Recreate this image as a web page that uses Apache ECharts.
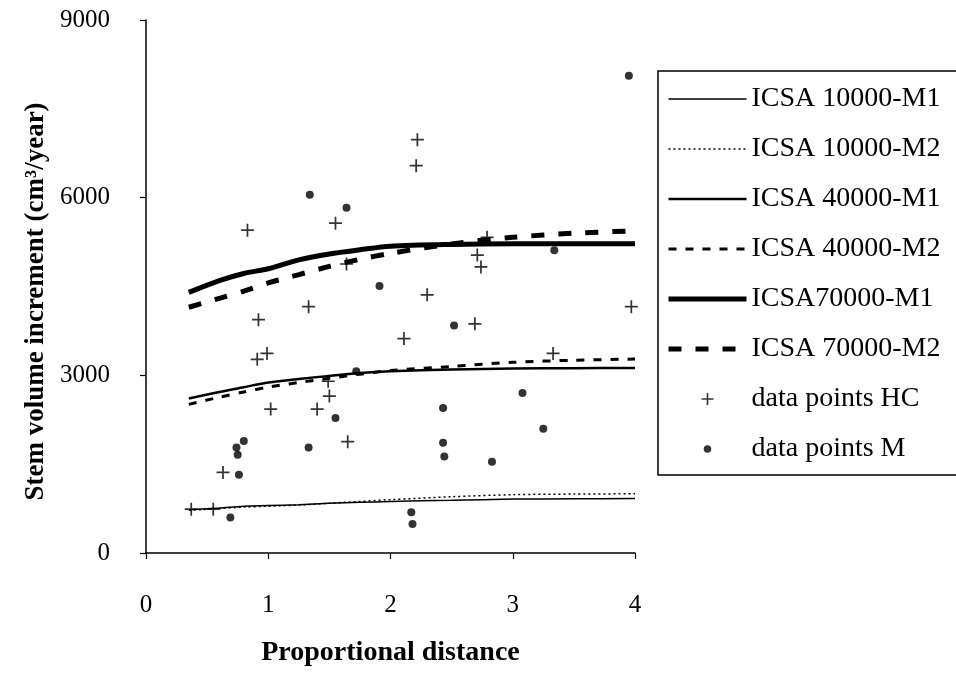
<!DOCTYPE html>
<html>
<head>
<meta charset="utf-8">
<script src="https://cdn.jsdelivr.net/npm/echarts@6/dist/echarts.min.js"></script>
<style>
html,body{margin:0;padding:0;background:#fff;}
#chart{width:956px;height:677px;}
</style>
</head>
<body>
<div id="chart"></div>
<script>
// ---- data ----
var xTicks = [0, 1, 2, 3, 4];
var yTicks = [0, 3000, 6000, 9000];
var curveX = [0.35, 0.6, 0.8, 1.0, 1.25, 1.5, 1.75, 2.0, 2.5, 3.0, 3.5, 4.0];
var icsa10kM1 = [730, 760, 790, 800, 815, 840, 855, 870, 890, 910, 915, 920];
var icsa10kM2 = [720, 750, 775, 790, 810, 840, 870, 900, 950, 985, 995, 1000];
var icsa40kM1 = [2610, 2720, 2800, 2880, 2940, 2990, 3040, 3070, 3100, 3115, 3120, 3125];
var icsa40kM2 = [2510, 2630, 2720, 2800, 2880, 2950, 3020, 3080, 3150, 3220, 3255, 3275];
var icsa70kM1 = [4400, 4600, 4720, 4800, 4950, 5050, 5120, 5180, 5210, 5220, 5220, 5220];
var icsa70kM2 = [4150, 4300, 4420, 4560, 4700, 4840, 4960, 5060, 5220, 5330, 5400, 5440];
var hcX = [0.37, 0.55, 0.63, 0.83, 0.91, 0.92, 0.99, 1.02, 1.33, 1.40, 1.49, 1.50, 1.55, 1.64, 1.65, 2.11, 2.21, 2.22, 2.30, 2.69, 2.71, 2.74, 2.79, 3.33, 3.97];
var hcY = [740, 740, 1360, 5450, 3270, 3940, 3370, 2430, 4160, 2430, 2900, 2650, 5570, 4880, 1880, 3620, 6540, 6980, 4360, 3870, 5030, 4830, 5330, 3370, 4160];
var mX = [0.69, 0.74, 0.75, 0.76, 0.80, 1.33, 1.34, 1.55, 1.64, 1.72, 1.91, 2.17, 2.18, 2.43, 2.43, 2.44, 2.52, 2.83, 3.08, 3.25, 3.34, 3.95];
var mY = [600, 1780, 1660, 1320, 1890, 1780, 6050, 2280, 5830, 3070, 4510, 690, 490, 1860, 2450, 1630, 3840, 1540, 2700, 2100, 5110, 8060];
var names = ['ICSA 10000-M1', 'ICSA 10000-M2', 'ICSA 40000-M1', 'ICSA 40000-M2', 'ICSA70000-M1', 'ICSA 70000-M2', 'data points HC', 'data points M'];

function zip(xs, ys) { return xs.map(function (x, i) { return [x, ys[i]]; }); }

var FONT = '"Liberation Serif", "DejaVu Serif", serif';
var PLUS = 'path://M0,5.2H5.2V0H6.8V5.2H12V6.8H6.8V12H5.2V6.8H0Z';
// small dot inside a 12x12 box (the leading moves only set the icon box)
var DOT = 'path://M0,0M12,12M2.2,6A3.8,3.8,0,1,1,9.8,6A3.8,3.8,0,1,1,2.2,6Z';

var lineStyles = [
  { width: 1.5, type: 'solid' },
  { width: 1.5, type: [2, 3] },
  { width: 2.5, type: 'solid' },
  { width: 3, type: [8, 9] },
  { width: 5, type: 'solid' },
  { width: 5, type: [13, 14] }
];
var lineData = [icsa10kM1, icsa10kM2, icsa40kM1, icsa40kM2, icsa70kM1, icsa70kM2];

var series = lineData.map(function (ys, i) {
  return {
    name: names[i], type: 'line', data: zip(curveX, ys), smooth: 0.3,
    symbol: 'none', silent: true,
    lineStyle: { color: '#000', width: lineStyles[i].width, type: lineStyles[i].type },
    itemStyle: { color: '#000' }
  };
});
series.push({
  name: names[6], type: 'scatter', data: zip(hcX, hcY), symbol: PLUS, symbolSize: 13,
  itemStyle: { color: '#000' }, silent: true
});
series.push({
  name: names[7], type: 'scatter', data: zip(mX, mY), symbol: 'circle', symbolSize: 8,
  itemStyle: { color: '#000' }, silent: true
});

var legendData = names.map(function (n, i) {
  if (i < 6) return { name: n, itemStyle: { opacity: 0 },
    lineStyle: { color: '#000', width: lineStyles[i].width, type: lineStyles[i].type } };
  if (i === 6) return { name: n, icon: PLUS };
  return { name: n, icon: DOT };
});

var chart = echarts.init(document.getElementById('chart'), null, { renderer: 'canvas' });
chart.setOption({
  animation: false,
  backgroundColor: '#fff',
  textStyle: { fontFamily: FONT, color: '#000' },
  grid: { left: 146, right: 321, top: 20, bottom: 124, containLabel: false },
  xAxis: {
    type: 'value', min: xTicks[0], max: xTicks[xTicks.length - 1], interval: 1,
    name: 'Proportional distance', nameLocation: 'middle', nameGap: 86,
    nameTextStyle: { fontFamily: FONT, fontSize: 28, fontWeight: 'bold', color: '#000' },
    axisLine: { show: true, lineStyle: { color: '#000', width: 1.5 } },
    axisTick: { show: true, inside: false, length: 6, lineStyle: { color: '#000', width: 1.2 } },
    axisLabel: { margin: 40, fontFamily: FONT, fontSize: 25, color: '#000' },
    splitLine: { show: false }
  },
  yAxis: {
    type: 'value', min: yTicks[0], max: yTicks[yTicks.length - 1], interval: 3000,
    name: 'Stem volume increment (cm\u00b3/year)', nameLocation: 'middle', nameGap: 86,
    nameTextStyle: { fontFamily: FONT, fontSize: 27, fontWeight: 'bold', color: '#000',
      padding: [0, 30, 0, 0] },
    axisLine: { show: true, lineStyle: { color: '#000', width: 1.5 } },
    axisTick: { show: true, inside: false, length: 6, lineStyle: { color: '#000', width: 1.2 } },
    axisLabel: { margin: 36, fontFamily: FONT, fontSize: 25, color: '#000',
      formatter: function (v) { return String(v); } },
    splitLine: { show: false }
  },
  legend: {
    orient: 'vertical', left: 658, top: 71,
    data: legendData,
    itemWidth: 78, itemHeight: 12, itemGap: 22,
    padding: [14, 60, 12, 8],
    borderColor: '#000', borderWidth: 1.5,
    textStyle: { fontFamily: FONT, fontSize: 28, color: '#000', lineHeight: 28 },
    selectedMode: false
  },
  series: series
});
</script>
</body>
</html>
